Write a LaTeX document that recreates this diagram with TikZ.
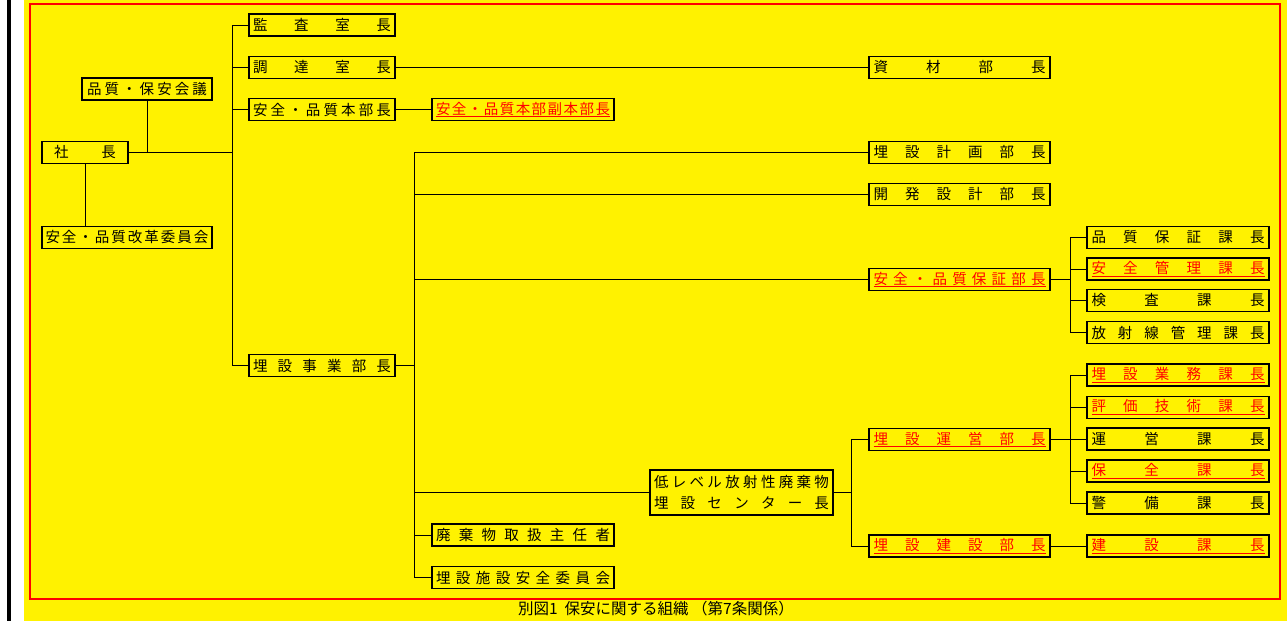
\documentclass[tikz,border=0pt]{standalone}
\usepackage{fontspec}
\setmainfont{Noto Sans CJK JP}
% spread the characters of a title over the given width (in pt)
\newcommand{\blk}[2]{\makebox[#1pt][s]{\spaceskip=0pt plus 1fil #2}}
\newcommand{\rd}[2]{\textcolor{red}{\underline{\makebox[#1pt][s]{\spaceskip=0pt plus 1fil #2}}}}
\begin{document}
\begin{tikzpicture}[x=1pt, y=-1pt,
  post/.style={draw, line width=1.3pt, fill=yellow, minimum height=22pt, inner sep=0pt, font=\fontsize{14.5}{16}\selectfont},
  link/.style={line width=1pt}]
\useasboundingbox (0,0) rectangle (1287,621);
% page background and frame
\fill[white] (0,0) rectangle (24,621);
\fill[black] (7,0) rectangle (11,621);
\fill[yellow] (24,0) rectangle (1287,621);
\draw[red, line width=1.2pt] (30,4) rectangle (1280,599);
% top of the organisation
\node[post, minimum width=130pt] (kaigi) at (147,89) {\blk{120}{品 質 ・ 保 安 会 議}};
\node[post, minimum width=86pt] (shacho) at (85,152.5) {\blk{62}{社 長}};
\node[post, minimum width=170pt] (kaikaku) at (127,237.5) {\blk{163}{安 全 ・ 品 質 改 革 委 員 会}};
% first column
\foreach \n/\y/\t in {kansa/25/監 査 室 長, chotatsu/67.5/調 達 室 長, honbu/109.5/安 全 ・ 品 質 本 部 長, jigyo/365.5/埋 設 事 業 部 長}
  \node[post, minimum width=146pt] (\n) at (322,\y) {\blk{138}{\t}};
% second column
\node[post, minimum width=182pt] (fukuhonbu) at (523,109.5) {\rd{174}{安 全 ・ 品 質 本 部 副 本 部 長}};
\node[post, minimum width=182pt] (haiki) at (523,535) {\blk{174}{廃 棄 物 取 扱 主 任 者}};
\node[post, minimum width=182pt] (anzeniin) at (523,577.5) {\blk{174}{埋 設 施 設 安 全 委 員 会}};
\node[post, minimum width=183pt, minimum height=45pt, align=center, font=\fontsize{14.5}{21}\selectfont] (center) at (741.5,492.5)
  {\blk{175}{低 レ ベ ル 放 射 性 廃 棄 物}\\\blk{175}{埋 設 セ ン タ ー 長}};
% department heads
\foreach \n/\y/\m/\t in {shizai/67.5/\blk/資 材 部 長, keikaku/152.5/\blk/埋 設 計 画 部 長, kaihatsu/194.5/\blk/開 発 設 計 部 長,
  hosho/279.5/\rd/安 全 ・ 品 質 保 証 部 長, uneibu/439.5/\rd/埋 設 運 営 部 長, kensetsubu/546/\rd/埋 設 建 設 部 長}
  \node[post, minimum width=181pt] (\n) at (959.5,\y) {\m{172}{\t}};
% section heads
\foreach \n/\y/\m/\t in {hinshitsu/237.5/\blk/品 質 保 証 課 長, kanri/269/\rd/安 全 管 理 課 長, kensa/300.5/\blk/検 査 課 長,
  hoshasen/332.5/\blk/放 射 線 管 理 課 長, gyomu/375/\rd/埋 設 業 務 課 長, hyoka/407.5/\rd/評 価 技 術 課 長,
  unei/439/\blk/運 営 課 長, hozen/471/\rd/保 全 課 長, keibi/503/\blk/警 備 課 長, kensetsuka/546/\rd/建 設 課 長}
  \node[post, minimum width=182pt] (\n) at (1178,\y) {\m{173}{\t}};
% connectors
\coordinate (t1) at (232,152.5);
\draw[link] (shacho.east) -- (t1);
\draw[link] (kaigi.south) -- (kaigi.south |- shacho.east);
\draw[link] (shacho.south) -- (shacho.south |- kaikaku.north);
\foreach \n in {kansa,chotatsu,honbu,jigyo} \draw[link] (\n.west) -| (t1);
\draw[link] (chotatsu.east) -- (shizai.west);
\draw[link] (honbu.east) -- (fukuhonbu.west);
\coordinate (t2) at (414,365.5);
\draw[link] (jigyo.east) -- (t2);
\foreach \n in {keikaku,kaihatsu,hosho,center,haiki,anzeniin} \draw[link] (\n.west) -| (t2);
\coordinate (t3) at (1070,279.5);
\draw[link] (hosho.east) -- (t3);
\foreach \n in {hinshitsu,kanri,kensa,hoshasen} \draw[link] (\n.west) -| (t3);
\coordinate (t4) at (851,492.5);
\draw[link] (center.east) -- (t4);
\foreach \n in {uneibu,kensetsubu} \draw[link] (\n.west) -| (t4);
\coordinate (t5) at (1070,439.5);
\draw[link] (uneibu.east) -- (t5);
\foreach \n in {gyomu,hyoka,unei,hozen,keibi} \draw[link] (\n.west) -| (t5);
\draw[link] (kensetsubu.east) -- (kensetsuka.west);
% caption
\node[font=\fontsize{15.5}{17}\selectfont] (caption) at (656,609) {別図1\ \ 保安に関する組織\ （第7条関係）};
\end{tikzpicture}
\end{document}
